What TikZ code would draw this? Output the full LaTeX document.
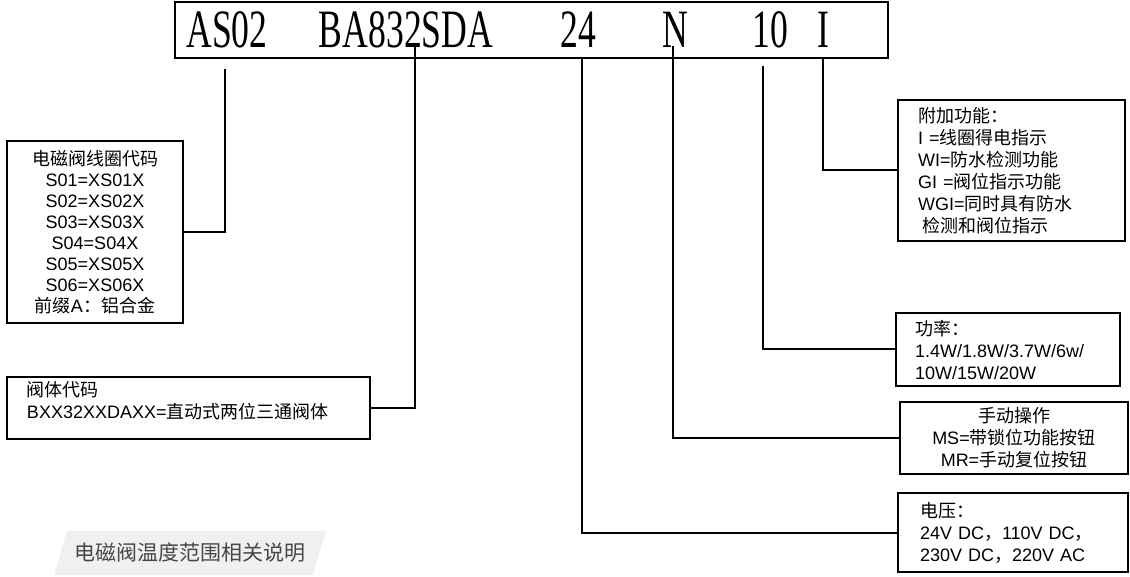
\documentclass[tikz,border=0pt]{standalone}
\usepackage{fontspec}
\setmainfont{Liberation Sans}
\newfontfamily\zh{Noto Sans CJK SC}
\newfontfamily\codefont[FakeStretch=0.66]{Liberation Serif}

\begin{document}
\begin{tikzpicture}[x=1pt,y=-1pt,
  box/.style={draw,line width=2pt,inner sep=0pt,font=\fontsize{18}{22}\selectfont},
  code/.style={anchor=base,inner sep=0pt,font=\codefont\fontsize{54}{54}\selectfont},
  link/.style={line width=2pt}]
\useasboundingbox (0,0) rectangle (1130,577);

% model code on top
\node[draw,line width=2pt,minimum width=713pt,minimum height=56pt] (model) at (531.5,30) {};
\node[code] (cAS)  at (227,48) {AS02};
\node[code] (cBA)  at (406,48) {BA832SDA};
\node[code] (cV)   at (578,48) {24};
\node[code] (cN)   at (675,48) {N};
\node[code] (cW)   at (770,48) {10};
\node[code] (cI)   at (823,48) {I};

% explanation boxes
\node[box,minimum width=176pt,minimum height=182pt,text width=170pt,align=center,
  font=\fontsize{18}{21}\selectfont] (coil) at (95,232)
  {{\zh 电磁阀线圈代码}\\S01=XS01X\\S02=XS02X\\S03=XS03X\\S04=S04X\\S05=XS05X\\S06=XS06X\\{\zh 前缀}A{\zh ：铝合金}};
\node[box,minimum width=363pt,minimum height=62pt,text width=323pt,align=left,
  text height=16pt,text depth=39pt] (body) at (188.5,408)
  {{\zh 阀体代码}\\BXX32XXDAXX={\zh 直动式两位三通阀体}};
\node[box,minimum width=227pt,minimum height=141pt,text width=187pt,align=left] (extra) at (1011.5,170.5)
  {{\zh 附加功能：}\\I ={\zh 线圈得电指示}\\WI={\zh 防水检测功能}\\GI ={\zh 阀位指示功能}\\WGI={\zh 同时具有防水}\\\hspace*{4pt}{\zh 检测和阀位指示}};
\node[box,minimum width=224pt,minimum height=73pt,text width=186pt,align=left] (power) at (1008,349.5)
  {{\zh 功率：}\\1.4W/1.8W/3.7W/6w/\\10W/15W/20W};
\node[box,minimum width=228pt,minimum height=72pt,text width=220pt,align=center] (manual) at (1014,438)
  {{\zh 手动操作}\\MS={\zh 带锁位功能按钮}\\MR={\zh 手动复位按钮}};
\node[box,minimum width=230pt,minimum height=79pt,text width=186pt,align=left] (volt) at (1013,532.5)
  {{\zh 电压：}\\24V DC{\zh ，}110V DC{\zh ，}\\230V DC{\zh ，}220V AC};

% connectors
\coordinate (tAS) at (225,69);
\coordinate (tBA) at (415,46);
\coordinate (tV)  at (582,58);
\coordinate (tN)  at (673,46);
\coordinate (tW)  at (763,66);
\coordinate (tI)  at (823,58);
\draw[link] (tAS) |- (coil.east);
\draw[link] (tBA) |- (body.east);
\draw[link] (tV)  |- (volt.west);
\draw[link] (tN)  |- (manual.west);
\draw[link] (tW)  |- (power.west);
\draw[link] (tI)  |- (extra.west);

% caption
\fill[black!6] (67,531) -- (326,531) -- (313,575) -- (54,575) -- cycle;
\node[font=\zh\fontsize{21}{21}\selectfont,text=black!72] (temp) at (190,553) {电磁阀温度范围相关说明};
\end{tikzpicture}
\end{document}
